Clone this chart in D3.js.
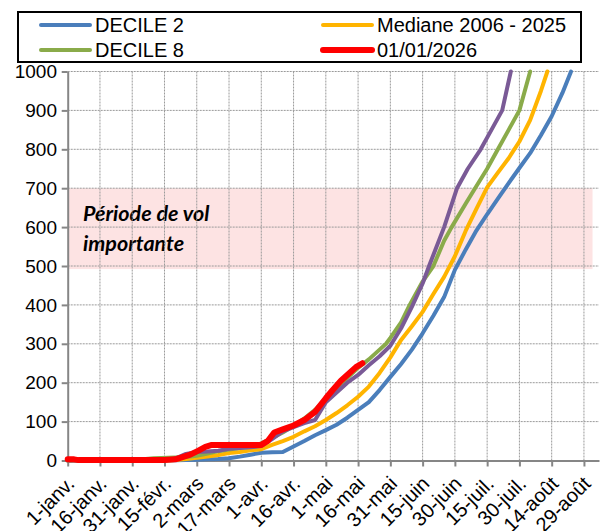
<!DOCTYPE html>
<html lang="fr">
<head>
<meta charset="UTF-8">
<title>Cumul de vol</title>
<script src="https://d3js.org/d3.v7.min.js"></script>
<style>
  body { margin: 0; background: #fff; }
  svg { display: block; font-family: "Liberation Sans", Arial, sans-serif; }
  .grid line { stroke: #9a9a9a; stroke-width: 1; stroke-dasharray: 2,1; }
  .axis path, .axis line { stroke: #868686; stroke-width: 2; }
</style>
</head>
<body>
<svg width="608" height="531"></svg>
<script>
// day index from 1 Jan -> cumulated value
var tickDays = [0, 15, 30, 45, 60, 75, 90, 105, 120, 135, 150, 165, 180, 195, 210, 225, 240];
var tickLabels = ["1-janv.", "16-janv.", "31-janv.", "15-févr.", "2-mars", "17-mars", "1-avr.", "16-avr.",
                  "1-mai", "16-mai", "31-mai", "15-juin", "30-juin", "15-juil.", "30-juil.", "14-août", "29-août"];
var yTicks = [0, 100, 200, 300, 400, 500, 600, 700, 800, 900, 1000];

var decile2 = [[0,0],[30,0],[45,0],[55,1],[60,2],[65,3],[70,4],[75,6],[80,10],[85,15],[90,20],[95,21],[100,22],
  [105,36],[110,50],[115,65],[120,78],[125,92],[130,110],[135,130],[140,150],[145,181],[150,215],[155,248],
  [160,285],[165,327],[170,372],[175,420],[180,490],[185,542],[190,591],[195,633],[200,673],[205,713],
  [210,752],[215,790],[220,836],[225,885],[230,945],[234,1000]];
var mediane = [[0,0],[45,0],[50,1],[55,4],[60,7],[65,10],[70,14],[75,19],[80,22],[85,26],[90,29],[95,40],
  [100,50],[105,61],[110,75],[115,88],[120,104],[125,122],[130,142],[135,164],[140,190],[145,225],[150,265],
  [155,310],[160,345],[165,382],[170,428],[175,472],[180,525],[185,590],[190,647],[195,702],[200,740],
  [205,777],[210,820],[215,875],[220,950],[223,1000]];
var decile8 = [[0,0],[5,2],[35,3],[40,6],[50,8],[55,9],[60,12],[65,18],[70,24],[75,28],[80,32],[85,36],
  [90,44],[95,58],[100,72],[105,89],[110,108],[115,130],[120,158],[125,185],[130,212],[135,238],[140,260],
  [145,285],[148,300],[150,315],[155,355],[159,400],[165,460],[170,500],[175,565],[178.5,600],[185,660],
  [189.4,700],[195,750],[200,800],[205,850],[210,900],[215,1000]];
var autre = [[0,0],[45,0],[50,5],[55,17],[60,22],[65,23],[70,25],[75,30],[80,32],[85,34],[90,37],[95,55],
  [100,75],[105,86],[110,96],[115,104],[120,150],[125,175],[130,200],[135,220],[140,245],[145,268],
  [150,295],[155,340],[160,395],[165,455],[168,500],[175,600],[178,650],[181,700],[186,750],[192,800],
  [197,850],[202,900],[206,1000]];
var annee2026 = [[0,3],[3,3],[5,1],[45,1],[50,3],[53,8],[57,15],[61,26],[64,35],[67,40],[90,40],[93,50],
  [96,72],[100,80],[105,90],[110,104],[115,125],[120,160],[123,180],[127,205],[131,225],[134,240],[137,250]];

var series = [
  {name: "DECILE 2", data: decile2, color: "#4a7ebb", width: 4},
  {name: "Mediane 2006 - 2025", data: mediane, color: "#ffb400", width: 4},
  {name: "DECILE 8", data: decile8, color: "#8aab4a", width: 4},
  {name: "", data: autre, color: "#7a5a96", width: 4},
  {name: "01/01/2026", data: annee2026, color: "#ff0000", width: 6}
];

var svg = d3.select("svg");
var x = d3.scaleLinear().domain([0, 247]).range([67.7, 599]);
var y = d3.scaleLinear().domain([0, 1000]).range([460.5, 71.5]);

// shaded band
svg.append("rect")
  .attr("x", x(0)).attr("y", y(700))
  .attr("width", x(244) - x(0)).attr("height", y(492) - y(700))
  .attr("fill", "#fde3e3");

svg.append("text")
  .attr("x", 83).attr("y", 221)
  .attr("font-family", "Lato, 'Open Sans', sans-serif")
  .attr("font-weight", "bold").attr("font-style", "italic").attr("font-size", 21.5)
  .selectAll("tspan").data(["Période de vol", "importante"]).enter().append("tspan")
  .attr("x", 83).attr("dy", function(d, i) { return i ? 30 : 0; })
  .text(function(d) { return d; });

// grid
var grid = svg.append("g").attr("class", "grid");
grid.selectAll(".h").data(yTicks.slice(1)).enter().append("line")
  .attr("x1", x(0)).attr("x2", x(247))
  .attr("y1", function(d) { return y(d); }).attr("y2", function(d) { return y(d); });
grid.selectAll(".v").data(tickDays.slice(1)).enter().append("line")
  .attr("x1", function(d) { return x(d); }).attr("x2", function(d) { return x(d); })
  .attr("y1", y(1000)).attr("y2", y(0));

// axes
svg.append("g").attr("class", "axis")
  .attr("transform", "translate(" + x(0) + ",0)")
  .call(d3.axisLeft(y).tickValues(yTicks).tickSize(6).tickSizeOuter(0).tickFormat(""));
svg.append("g").attr("class", "axis")
  .attr("transform", "translate(0," + y(0) + ")")
  .call(d3.axisBottom(x).tickValues(tickDays).tickSize(6).tickSizeOuter(0).tickFormat(""));

svg.selectAll(".ylab").data(yTicks).enter().append("text")
  .attr("x", 57).attr("y", function(d) { return y(d); })
  .attr("dy", "0.35em").attr("text-anchor", "end").attr("font-size", 19).attr("fill", "#000")
  .text(function(d) { return d; });

svg.selectAll(".xlab").data(tickDays).enter().append("text")
  .attr("transform", function(d) { return "translate(" + (x(d) + 3) + ",480) rotate(-45)"; })
  .attr("text-anchor", "end").attr("dy", "0.35em").attr("font-size", 20).attr("fill", "#000")
  .text(function(d, i) { return tickLabels[i]; });

// lines
var line = d3.line().x(function(d) { return x(d[0]); }).y(function(d) { return y(d[1]); });
svg.selectAll(".serie").data(series).enter().append("path")
  .attr("d", function(d) { return line(d.data); })
  .attr("fill", "none")
  .attr("stroke", function(d) { return d.color; })
  .attr("stroke-width", function(d) { return d.width; })
  .attr("stroke-linejoin", "round").attr("stroke-linecap", "round");

// legend
var leg = svg.append("g");
leg.append("rect").attr("x", 18).attr("y", 12).attr("width", 563).attr("height", 50)
  .attr("fill", "#fff").attr("stroke", "#000").attr("stroke-width", 2);
var legItems = [
  {s: series[0], lx: 41, ty: 25},
  {s: series[2], lx: 41, ty: 50},
  {s: series[1], lx: 323, ty: 25},
  {s: series[4], lx: 323, ty: 50}
];
legItems.forEach(function(it) {
  leg.append("line").attr("x1", it.lx).attr("x2", it.lx + 49)
    .attr("y1", it.ty).attr("y2", it.ty)
    .attr("stroke", it.s.color).attr("stroke-width", it.s.width).attr("stroke-linecap", "round");
  leg.append("text").attr("x", it.lx + 54).attr("y", it.ty).attr("dy", "0.35em")
    .attr("font-size", 20).attr("fill", "#000").text(it.s.name);
});
</script>
</body>
</html>
